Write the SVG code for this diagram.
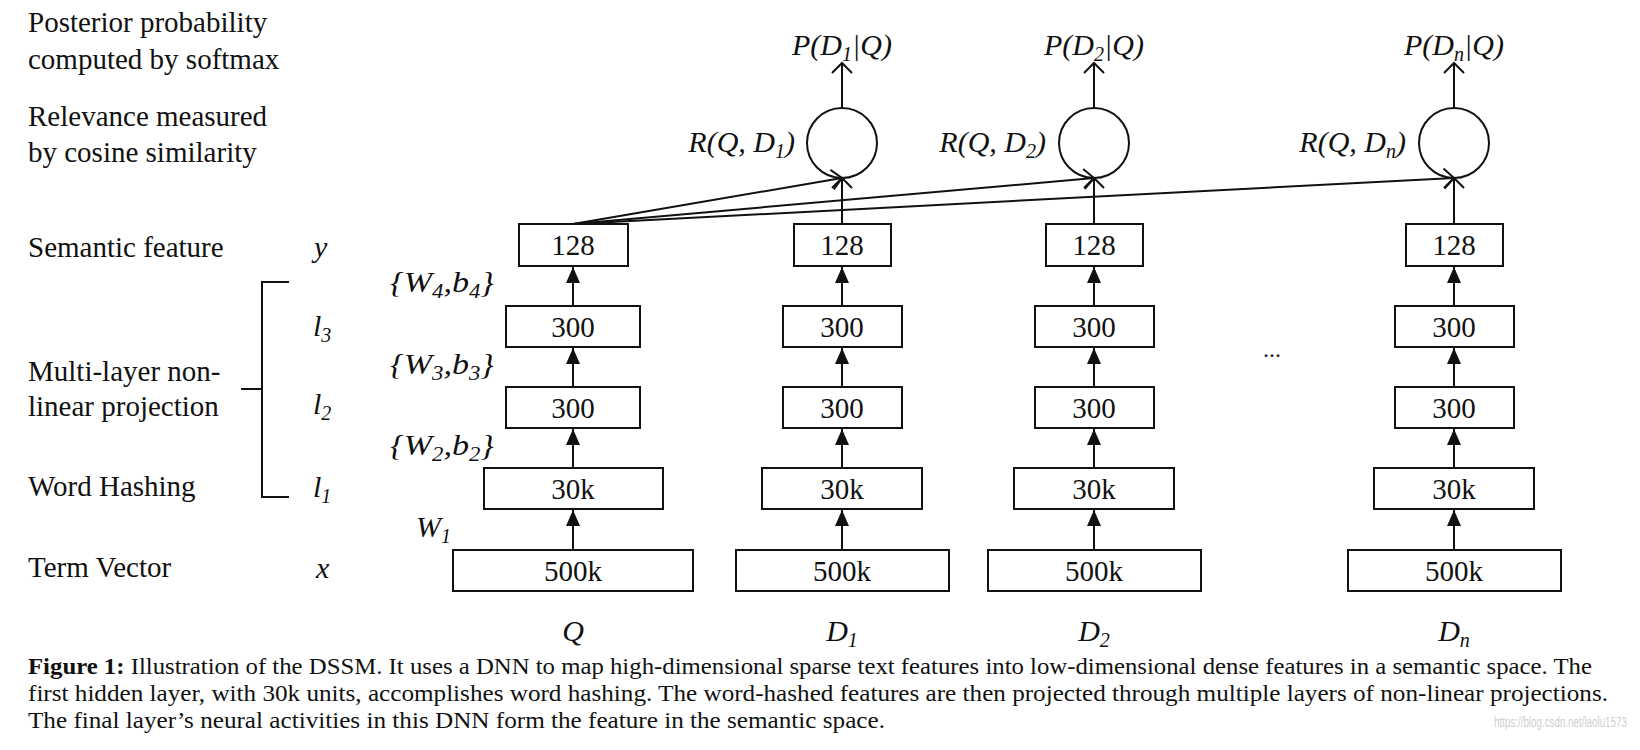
<svg xmlns="http://www.w3.org/2000/svg" width="1640" height="750" viewBox="0 0 1640 750">
<style>
text{font-family:"Liberation Serif","Times New Roman",serif;fill:#111}
.lbl{font-size:29px}
.it{font-size:30px;font-style:italic}
.num{font-size:29px;text-anchor:middle}
.box{fill:#fff;stroke:#111;stroke-width:2}
.circ{fill:none;stroke:#111;stroke-width:2}
.ln{stroke:#111;stroke-width:2;fill:none}
.sub{font-size:20px}
.cap{font-size:24px}
.wm{font-family:"Liberation Sans",Arial,sans-serif;font-size:14px;fill:#cfcfcf}
</style>
<defs>
<marker id="tri" markerUnits="userSpaceOnUse" viewBox="0 0 16 14" refX="16" refY="7" markerWidth="16" markerHeight="14" orient="auto"><path d="M0,0L16,7L0,14z" fill="#111"/></marker>
<marker id="vee" markerUnits="userSpaceOnUse" viewBox="-2 -2 15 24" refX="10" refY="10" markerWidth="15" markerHeight="24" orient="auto" overflow="visible"><path d="M0,0L10,10L0,20" fill="none" stroke="#111" stroke-width="2"/></marker>
</defs>

<g id="left-labels">
<text class="lbl" x="28" y="32">Posterior probability</text>
<text class="lbl" x="28" y="69">computed by softmax</text>
<text class="lbl" x="28" y="126">Relevance measured</text>
<text class="lbl" x="28" y="162">by cosine similarity</text>
<text class="lbl" x="28" y="257">Semantic feature</text>
<text class="lbl" x="28" y="381">Multi-layer non-</text>
<text class="lbl" x="28" y="416">linear projection</text>
<text class="lbl" x="28" y="496">Word Hashing</text>
<text class="lbl" x="28" y="577">Term Vector</text>
<path class="ln" d="M289,282H262V497H289M241,389H262"/>
</g>

<g id="layer-vars">
<text class="it" x="314" y="257">y</text>
<text class="it" x="313" y="336">l<tspan class="sub" dy="6">3</tspan></text>
<text class="it" x="313" y="414">l<tspan class="sub" dy="6">2</tspan></text>
<text class="it" x="313" y="497">l<tspan class="sub" dy="6">1</tspan></text>
<text class="it" x="316" y="578">x</text>
<text class="it" x="390" y="292" textLength="104" lengthAdjust="spacingAndGlyphs">{W<tspan class="sub" dy="6">4</tspan><tspan dy="-6">,b</tspan><tspan class="sub" dy="6">4</tspan><tspan dy="-6">}</tspan></text>
<text class="it" x="390" y="374" textLength="104" lengthAdjust="spacingAndGlyphs">{W<tspan class="sub" dy="6">3</tspan><tspan dy="-6">,b</tspan><tspan class="sub" dy="6">3</tspan><tspan dy="-6">}</tspan></text>
<text class="it" x="390" y="455" textLength="104" lengthAdjust="spacingAndGlyphs">{W<tspan class="sub" dy="6">2</tspan><tspan dy="-6">,b</tspan><tspan class="sub" dy="6">2</tspan><tspan dy="-6">}</tspan></text>
<text class="it" x="416" y="537">W<tspan class="sub" dy="6">1</tspan></text>
</g>

<g id="connectors">
<line class="ln" x1="573" y1="306" x2="573" y2="267" marker-end="url(#tri)"/>
<line class="ln" x1="573" y1="387" x2="573" y2="348" marker-end="url(#tri)"/>
<line class="ln" x1="573" y1="468" x2="573" y2="429" marker-end="url(#tri)"/>
<line class="ln" x1="573" y1="550" x2="573" y2="510" marker-end="url(#tri)"/>
<line class="ln" x1="842" y1="306" x2="842" y2="267" marker-end="url(#tri)"/>
<line class="ln" x1="842" y1="387" x2="842" y2="348" marker-end="url(#tri)"/>
<line class="ln" x1="842" y1="468" x2="842" y2="429" marker-end="url(#tri)"/>
<line class="ln" x1="842" y1="550" x2="842" y2="510" marker-end="url(#tri)"/>
<line class="ln" x1="1094" y1="306" x2="1094" y2="267" marker-end="url(#tri)"/>
<line class="ln" x1="1094" y1="387" x2="1094" y2="348" marker-end="url(#tri)"/>
<line class="ln" x1="1094" y1="468" x2="1094" y2="429" marker-end="url(#tri)"/>
<line class="ln" x1="1094" y1="550" x2="1094" y2="510" marker-end="url(#tri)"/>
<line class="ln" x1="1454" y1="306" x2="1454" y2="267" marker-end="url(#tri)"/>
<line class="ln" x1="1454" y1="387" x2="1454" y2="348" marker-end="url(#tri)"/>
<line class="ln" x1="1454" y1="468" x2="1454" y2="429" marker-end="url(#tri)"/>
<line class="ln" x1="1454" y1="550" x2="1454" y2="510" marker-end="url(#tri)"/>
<line class="ln" x1="842" y1="224" x2="842" y2="178" marker-end="url(#vee)"/>
<line class="ln" x1="1094" y1="224" x2="1094" y2="178" marker-end="url(#vee)"/>
<line class="ln" x1="1454" y1="224" x2="1454" y2="178" marker-end="url(#vee)"/>
<line class="ln" x1="842" y1="108" x2="842" y2="63" marker-end="url(#vee)"/>
<line class="ln" x1="1094" y1="108" x2="1094" y2="63" marker-end="url(#vee)"/>
<line class="ln" x1="1454" y1="108" x2="1454" y2="63" marker-end="url(#vee)"/>
<line class="ln" x1="573" y1="224" x2="842" y2="178" marker-end="url(#vee)"/>
<line class="ln" x1="573" y1="224" x2="1094" y2="178" marker-end="url(#vee)"/>
<line class="ln" x1="573" y1="224" x2="1454" y2="178" marker-end="url(#vee)"/>
</g>

<g id="col-q">
<g id="q-128"><rect class="box" x="519" y="224" width="109" height="42"/><text class="num" x="573" y="255">128</text></g>
<g id="q-l3"><rect class="box" x="506" y="306" width="134" height="41"/><text class="num" x="573" y="337">300</text></g>
<g id="q-l2"><rect class="box" x="506" y="387" width="134" height="41"/><text class="num" x="573" y="418">300</text></g>
<g id="q-l1"><rect class="box" x="484" y="468" width="179" height="41"/><text class="num" x="573" y="499">30k</text></g>
<g id="q-x"><rect class="box" x="453" y="550" width="240" height="41"/><text class="num" x="573" y="581">500k</text></g>
<text class="it" x="573" y="641" text-anchor="middle">Q</text>
</g>

<g id="col-d1">
<g id="d1-r"><circle class="circ" cx="842" cy="143" r="35"/><text class="it" x="795" y="152" text-anchor="end">R(Q, D<tspan class="sub" dy="6">1</tspan><tspan dy="-6">)</tspan></text></g>
<text class="it" x="842" y="55" text-anchor="middle">P(D<tspan class="sub" dy="6">1</tspan><tspan dy="-6">|Q)</tspan></text>
<g id="d1-128"><rect class="box" x="794" y="224" width="97" height="42"/><text class="num" x="842" y="255">128</text></g>
<g id="d1-l3"><rect class="box" x="783" y="306" width="119" height="41"/><text class="num" x="842" y="337">300</text></g>
<g id="d1-l2"><rect class="box" x="783" y="387" width="119" height="41"/><text class="num" x="842" y="418">300</text></g>
<g id="d1-l1"><rect class="box" x="762" y="468" width="160" height="41"/><text class="num" x="842" y="499">30k</text></g>
<g id="d1-x"><rect class="box" x="736" y="550" width="213" height="41"/><text class="num" x="842" y="581">500k</text></g>
<text class="it" x="842" y="641" text-anchor="middle">D<tspan class="sub" dy="6">1</tspan></text>
</g>

<g id="col-d2">
<g id="d2-r"><circle class="circ" cx="1094" cy="143" r="35"/><text class="it" x="1046" y="152" text-anchor="end">R(Q, D<tspan class="sub" dy="6">2</tspan><tspan dy="-6">)</tspan></text></g>
<text class="it" x="1094" y="55" text-anchor="middle">P(D<tspan class="sub" dy="6">2</tspan><tspan dy="-6">|Q)</tspan></text>
<g id="d2-128"><rect class="box" x="1046" y="224" width="97" height="42"/><text class="num" x="1094" y="255">128</text></g>
<g id="d2-l3"><rect class="box" x="1035" y="306" width="119" height="41"/><text class="num" x="1094" y="337">300</text></g>
<g id="d2-l2"><rect class="box" x="1035" y="387" width="119" height="41"/><text class="num" x="1094" y="418">300</text></g>
<g id="d2-l1"><rect class="box" x="1014" y="468" width="160" height="41"/><text class="num" x="1094" y="499">30k</text></g>
<g id="d2-x"><rect class="box" x="988" y="550" width="213" height="41"/><text class="num" x="1094" y="581">500k</text></g>
<text class="it" x="1094" y="641" text-anchor="middle">D<tspan class="sub" dy="6">2</tspan></text>
</g>

<text id="ellipsis" x="1272" y="357" text-anchor="middle" style="font-size:24px">...</text>

<g id="col-dn">
<g id="dn-r"><circle class="circ" cx="1454" cy="143" r="35"/><text class="it" x="1406" y="152" text-anchor="end">R(Q, D<tspan class="sub" dy="6">n</tspan><tspan dy="-6">)</tspan></text></g>
<text class="it" x="1454" y="55" text-anchor="middle">P(D<tspan class="sub" dy="6">n</tspan><tspan dy="-6">|Q)</tspan></text>
<g id="dn-128"><rect class="box" x="1406" y="224" width="97" height="42"/><text class="num" x="1454" y="255">128</text></g>
<g id="dn-l3"><rect class="box" x="1395" y="306" width="119" height="41"/><text class="num" x="1454" y="337">300</text></g>
<g id="dn-l2"><rect class="box" x="1395" y="387" width="119" height="41"/><text class="num" x="1454" y="418">300</text></g>
<g id="dn-l1"><rect class="box" x="1374" y="468" width="160" height="41"/><text class="num" x="1454" y="499">30k</text></g>
<g id="dn-x"><rect class="box" x="1348" y="550" width="213" height="41"/><text class="num" x="1454" y="581">500k</text></g>
<text class="it" x="1454" y="641" text-anchor="middle">D<tspan class="sub" dy="6">n</tspan></text>
</g>

<g id="caption">
<text class="cap" x="28" y="674" textLength="1564" lengthAdjust="spacingAndGlyphs"><tspan font-weight="bold">Figure 1:</tspan> Illustration of the DSSM. It uses a DNN to map high-dimensional sparse text features into low-dimensional dense features in a semantic space. The</text>
<text class="cap" x="28" y="701" textLength="1580" lengthAdjust="spacingAndGlyphs">first hidden layer, with 30k units, accomplishes word hashing. The word-hashed features are then projected through multiple layers of non-linear projections.</text>
<text class="cap" x="28" y="728" textLength="857" lengthAdjust="spacingAndGlyphs">The final layer’s neural activities in this DNN form the feature in the semantic space.</text>
<text class="wm" transform="translate(1494,727) scale(0.7,1)" x="0" y="0">https://blog.csdn.net/laolu1573</text>
</g>
</svg>
